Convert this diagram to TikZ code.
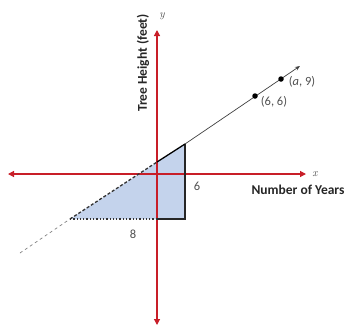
\documentclass[tikz,border=0pt]{standalone}
\usepackage{fontspec}
\setmainfont{Carlito}
\usetikzlibrary{arrows.meta}
\definecolor{axisred}{RGB}{200,30,40}
\definecolor{fillblue}{RGB}{196,211,236}
\definecolor{txtgray}{RGB}{80,80,80}
\tikzset{
  axis/.style={axisred, line width=1.2pt, -{Triangle[length=6pt,width=6pt]}},
  lbl/.style={font=\fontsize{12.5}{14}\selectfont, text=txtgray, inner sep=0pt},
  title/.style={font=\fontsize{13.5}{15}\selectfont\bfseries, text=black!85, inner sep=0pt},
  dot/.style={circle, fill=black, inner sep=0pt, minimum size=5.5pt},
}
\begin{document}
\begin{tikzpicture}[x=1pt,y=-1pt]
\useasboundingbox (0,0) rectangle (348,327);
% key points
\coordinate (O) at (157,174);
\coordinate (L0) at (20,253);
\coordinate (A) at (70,219);
\coordinate (B) at (157,162);
\coordinate (C) at (185,144);
\coordinate (D) at (185,219);
\coordinate (E) at (157,219);
\coordinate (Lend) at (300,66);
% fill
\fill[fillblue] (A) -- (C) -- (D) -- cycle;
% axes
\coordinate (xl) at (8,174);
\coordinate (xr) at (306,174);
\coordinate (yt) at (157,30);
\coordinate (yb) at (157,325);
\draw[axis] (O) -- (xr);
\draw[axis] (O) -- (xl);
\draw[axis] (O) -- (yt);
\draw[axis] (O) -- (yb);
% triangle edges
\draw[black!85, line width=1.3pt] (C) -- (D) -- (E);
\draw[black!80, line width=1.3pt, dotted] (E) -- (A);
% line
\draw[gray, line width=0.7pt, dash pattern=on 3pt off 3pt] (L0) -- (A);
\draw[black!80, line width=1.3pt, dash pattern=on 3pt off 2pt] (A) -- (B);
\draw[black, line width=1.3pt] (B) -- (C);
\draw[black!75, line width=0.7pt, -{Stealth[length=5pt,width=4pt]}] (C) -- (Lend);
% points
\node[dot] (p1) at (255,96) {};
\node[dot] (p2) at (281,79) {};
\node[lbl] (p1l) at (274,102) {(6, 6)};
\node[lbl] (p2l) at (302,82) {(\textit{a}, 9)};
% labels
\node[lbl] (six) at (197,186) {6};
\node[lbl] (eight) at (133,234) {8};
\node[font=\fontsize{11}{12}\selectfont, text=txtgray] (xlab) at (315,174) {\fontspec{Latin Modern Roman}\itshape x};
\node[font=\fontsize{11}{12}\selectfont, text=txtgray] (ylab) at (162,16) {\fontspec{Latin Modern Roman}\itshape y};
\node[title] (xt) at (298,190) {Number of Years};
\node[title, rotate=90] (yt2) at (143,63) {Tree Height (feet)};
\end{tikzpicture}
\end{document}
